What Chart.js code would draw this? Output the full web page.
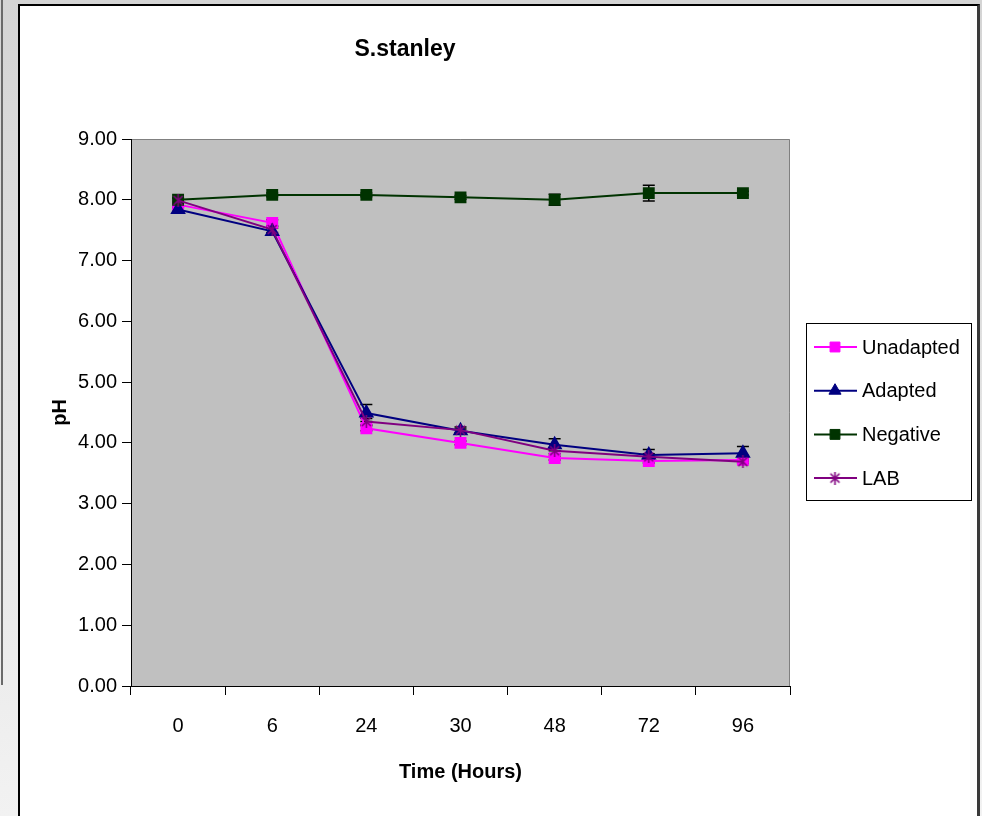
<!DOCTYPE html>
<html>
<head>
<meta charset="utf-8">
<script src="https://cdn.jsdelivr.net/npm/chart.js@4.4.0/dist/chart.umd.min.js"></script>
<style>
    html, body { margin: 0; padding: 0; width: 982px; height: 816px; overflow: hidden; }
    body { background: linear-gradient(#d4d4d4, #f2f2f2); position: relative; }
    #edge { position: absolute; left: 1px; top: 0; width: 2px; height: 685px; background: #6a6a6a; }
    #box { position: absolute; left: 18px; top: 4px; width: 957px; height: 830px; background: #fff;
           border-left: 2px solid #000; border-top: 2px solid #000; border-right: 3px solid #3a3a3a; }
    #box canvas { position: absolute; left: 0; top: 0; }
</style>
</head>
<body>
<div id="edge"></div>
<div id="box"><canvas id="phChart" width="956" height="810"></canvas></div>
<script>
// Zeitpunkte (Stunden)
const timeLabels = ['0', '6', '24', '30', '48', '72', '96'];

// pH Werte
const unadapted = [7.92, 7.62, 4.24, 4.00, 3.75, 3.70, 3.72];
const adapted   = [7.84, 7.48, 4.49, 4.20, 3.97, 3.80, 3.83];
const negative  = [8.00, 8.08, 8.08, 8.04, 8.00, 8.11, 8.11];
const lab       = [7.99, 7.51, 4.35, 4.21, 3.87, 3.77, 3.69];

// Fehlerbalken (+/-)
const unadaptedErr = [0.03, 0.05, 0.04, 0.03, 0.03, 0.03, 0.03];
const adaptedErr   = [0.03, 0.05, 0.14, 0.03, 0.10, 0.09, 0.11];
const negativeErr  = [0.03, 0.03, 0.03, 0.03, 0.09, 0.13, 0.03];
const labErr       = [0.03, 0.05, 0.05, 0.05, 0.05, 0.05, 0.03];

const seriesNames = ['Unadapted', 'Adapted', 'Negative', 'LAB'];

// schmale Schrift (wie Excel-Export) falls vorhanden
const probe = document.createElement('canvas').getContext('2d');
probe.font = '40px "Liberation Sans Narrow", monospace';
const wNarrow = probe.measureText('Unadapted 0123').width;
probe.font = '40px monospace';
const wMono = probe.measureText('Unadapted 0123').width;
const hasNarrow = Math.abs(wNarrow - wMono) > 1;

const fontFamily = hasNarrow
    ? '"Liberation Sans Narrow", "Liberation Sans", Arial, sans-serif'
    : '"Liberation Sans", Arial, sans-serif';
const f = hasNarrow ? 1.2 : 1;
const tickSize = 20 * f;
const axisTitleSize = 20 * f;
const titleSize = 23 * f;
const legendSize = 20 * f;

Chart.defaults.font.family = fontFamily;
Chart.defaults.color = '#000';

// Stern-Marker wie in Excel (X mit senkrechtem Strich)
const makeAsterisk = (color) => {
    const c = document.createElement('canvas');
    c.width = 13;
    c.height = 13;
    const g = c.getContext('2d');
    g.strokeStyle = color;
    g.lineWidth = 1.6;
    g.beginPath();
    g.moveTo(2, 2); g.lineTo(11, 11);
    g.moveTo(11, 2); g.lineTo(2, 11);
    g.moveTo(6.5, 0); g.lineTo(6.5, 13);
    g.stroke();
    return c;
};
const labStar = makeAsterisk('#800080');

const makeDataset = (label, data, errors, color, pointStyle, radius, order) => ({
    label: label,
    data: data,
    errors: errors,
    borderColor: color,
    backgroundColor: color,
    pointBackgroundColor: color,
    pointBorderColor: color,
    pointStyle: pointStyle,
    pointRadius: radius,
    pointHoverRadius: radius,
    borderWidth: 2,
    tension: 0,
    fill: false,
    order: order
});

// grauer Plotbereich
const plotBackground = {
    id: 'plotBackground',
    beforeDraw(chart) {
        const { ctx, chartArea: a } = chart;
        ctx.save();
        ctx.fillStyle = '#c0c0c0';
        ctx.fillRect(a.left, a.top, a.right - a.left, a.bottom - a.top);
        ctx.strokeStyle = '#808080';
        ctx.lineWidth = 1;
        ctx.beginPath();
        ctx.moveTo(a.left, a.top + 0.5);
        ctx.lineTo(a.right - 0.5, a.top + 0.5);
        ctx.lineTo(a.right - 0.5, a.bottom);
        ctx.stroke();
        ctx.restore();
    }
};

// Fehlerbalken
const errorBars = {
    id: 'errorBars',
    beforeDatasetsDraw(chart) {
        const { ctx } = chart;
        const yScale = chart.scales.y;
        ctx.save();
        ctx.strokeStyle = '#000';
        ctx.lineWidth = 1.5;
        chart.data.datasets.forEach((ds, i) => {
            const meta = chart.getDatasetMeta(i);
            meta.data.forEach((pt, j) => {
                const v = ds.data[j];
                const e = ds.errors[j];
                const yTop = yScale.getPixelForValue(v + e);
                const yBot = yScale.getPixelForValue(v - e);
                ctx.beginPath();
                ctx.moveTo(pt.x, yTop); ctx.lineTo(pt.x, yBot);
                ctx.moveTo(pt.x - 6, yTop); ctx.lineTo(pt.x + 6, yTop);
                ctx.moveTo(pt.x - 6, yBot); ctx.lineTo(pt.x + 6, yBot);
                ctx.stroke();
            });
        });
        ctx.restore();
    }
};

// Legende mit Rahmen und Linie durch den Marker
const boxedLegend = {
    id: 'boxedLegend',
    afterDraw(chart) {
        const { ctx } = chart;
        const left = chart.chartArea.right + 16;
        const top = 317;
        ctx.save();
        ctx.strokeStyle = '#000';
        ctx.lineWidth = 1;
        ctx.strokeRect(left + 0.5, top + 0.5, 165, 177);
        ctx.font = legendSize + 'px ' + fontFamily;
        ctx.textBaseline = 'middle';
        chart.data.datasets.forEach((ds, i) => {
            const y = top + 24 + i * 43.7;
            ctx.strokeStyle = ds.borderColor;
            ctx.fillStyle = ds.borderColor;
            ctx.lineWidth = 2;
            ctx.beginPath();
            ctx.moveTo(left + 8, y);
            ctx.lineTo(left + 51, y);
            ctx.stroke();
            if (typeof ds.pointStyle === 'string') {
                ctx.lineWidth = 1;
                Chart.helpers.drawPoint(ctx, { pointStyle: ds.pointStyle, radius: ds.pointRadius, borderWidth: 1, rotation: 0 }, left + 29, y);
            } else {
                ctx.drawImage(ds.pointStyle, left + 29 - 6.5, y - 6.5);
            }
            ctx.fillStyle = '#000';
            ctx.fillText(seriesNames[i], left + 56, y + 1);
        });
        ctx.restore();
    }
};

const ctx = document.getElementById('phChart').getContext('2d');

new Chart(ctx, {
    type: 'line',
    data: {
        labels: timeLabels,
        datasets: [
            makeDataset('Unadapted', unadapted, unadaptedErr, '#ff00ff', 'rect', 7, 4),
            makeDataset('Adapted', adapted, adaptedErr, '#000080', 'triangle', 7, 3),
            makeDataset('Negative', negative, negativeErr, '#003300', 'rect', 7, 2),
            makeDataset('LAB', lab, labErr, '#800080', labStar, 6, 1)
        ]
    },
    options: {
        responsive: false,
        animation: false,
        layout: { padding: { left: 0, right: 186, top: 0, bottom: 0 } },
        scales: {
            x: {
                type: 'category',
                offset: true,
                afterFit: (scale) => { scale.height = 130; },
                grid: { offset: true, drawOnChartArea: false, tickLength: 9, tickColor: '#000' },
                border: { color: '#000', width: 1 },
                ticks: { padding: 31 - 0.6 * tickSize, font: { size: tickSize }, color: '#000' },
                title: {
                    display: true,
                    text: 'Time (Hours)',
                    font: { size: axisTitleSize, weight: 'bold' },
                    padding: { top: 0, bottom: 44 - 0.6 * axisTitleSize }
                }
            },
            y: {
                min: 0,
                max: 9,
                afterFit: (scale) => { scale.width = 111; },
                grid: { drawOnChartArea: false, tickLength: 9, tickColor: '#000' },
                border: { color: '#000', width: 1 },
                ticks: {
                    stepSize: 1,
                    padding: 5,
                    font: { size: tickSize },
                    color: '#000',
                    callback: (v) => Number(v).toFixed(2)
                },
                title: {
                    display: true,
                    text: 'pH',
                    font: { size: axisTitleSize, weight: 'bold' },
                    padding: { top: 40 - 0.6 * axisTitleSize, bottom: 0 }
                }
            }
        },
        plugins: {
            legend: { display: false },
            tooltip: { enabled: false },
            title: {
                display: true,
                text: 'S.stanley',
                font: { size: titleSize, weight: 'bold' },
                color: '#000',
                padding: { top: 44 - 0.6 * titleSize, bottom: 133 - 44 - 0.6 * titleSize }
            }
        }
    },
    plugins: [plotBackground, errorBars, boxedLegend]
});
</script>
</body>
</html>
